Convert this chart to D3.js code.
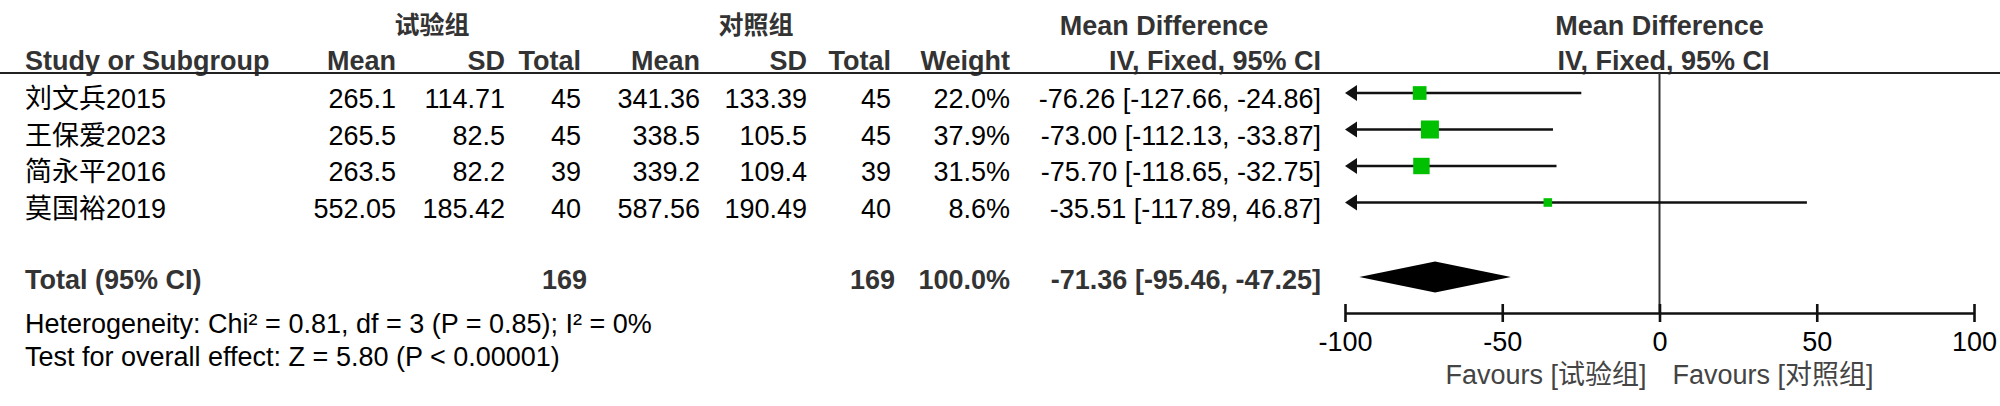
<!DOCTYPE html>
<html><head><meta charset="utf-8">
<script src="https://cdn.jsdelivr.net/npm/d3@7"></script>
<style>html,body{margin:0;padding:0;background:#fff;} svg{display:block;}</style>
</head><body>
<svg id="chart" width="2000" height="406"></svg>
<script>
// ---------- data ----------
const studies  = ["刘文兵2015", "王保爱2023", "简永平2016", "莫国裕2019"];
const expMean  = [265.1, 265.5, 263.5, 552.05];
const expSD    = [114.71, 82.5, 82.2, 185.42];
const expN     = [45, 45, 39, 40];
const ctlMean  = [341.36, 338.5, 339.2, 587.56];
const ctlSD    = [133.39, 105.5, 109.4, 190.49];
const ctlN     = [45, 45, 39, 40];
const weights  = [22.0, 37.9, 31.5, 8.6];
const md       = [-76.26, -73.00, -75.70, -35.51];
const ciLow    = [-127.66, -112.13, -118.65, -117.89];
const ciHigh   = [-24.86, -33.87, -32.75, 46.87];
const totalN   = [169, 169];
const totalWeight = 100.0;
const totalMD  = [-71.36, -95.46, -47.25];   // estimate, low, high
const axisTicks = [-100, -50, 0, 50, 100];
const groupLabels = ["试验组", "对照组"];
const heterogeneityText = "Heterogeneity: Chi² = 0.81, df = 3 (P = 0.85); I² = 0%";
const overallText = "Test for overall effect: Z = 5.80 (P < 0.00001)";
const favourLabels = ["Favours [试验组]", "Favours [对照组]"];

// ---------- layout ----------
const FONT = "'Liberation Sans', Arial, 'Noto Sans CJK SC', sans-serif";
const FS = 27;
const svg = d3.select("#chart");
svg.append("rect").attr("width", 2000).attr("height", 406).attr("fill", "#fff");

const col = {study: 25, eMean: 396, eSD: 505, eN: 581, cMean: 700, cSD: 807, cN: 891, w: 1010, ci: 1321};
const yGroup = 35, yHead = 70, yLine = 73;
const rowBase = d3.scaleLinear().domain([0, 1]).range([108, 144.5]);
const yTotal = 289, yHet = 333, yOverall = 366;
const axisY = 313;

const x = d3.scaleLinear().domain([-100, 100]).range([1345, 1974]);
const size = d3.scaleSqrt().domain([0, d3.max(weights)]).range([0, 18]);
const f2 = v => v.toFixed(2);

function txt(s, xx, yy, anchor, opts = {}) {
  return svg.append("text").attr("x", xx).attr("y", yy)
    .attr("text-anchor", anchor || "start")
    .attr("font-family", opts.family || FONT)
    .attr("font-size", opts.size || FS)
    .attr("font-weight", opts.bold ? "bold" : "normal")
    .attr("fill", opts.fill || "#000")
    .text(s);
}

// group headers
const hdrFill = "#333";
const cjkBold = {bold: true, fill: hdrFill, size: 25, family: "'Noto Sans CJK SC', sans-serif"};
txt(groupLabels[0], 432, yGroup - 1, "middle", cjkBold);
txt(groupLabels[1], 756, yGroup - 1, "middle", cjkBold);
txt("Mean Difference", 1164, yGroup, "middle", {bold: true, fill: hdrFill});
txt("Mean Difference", x(0), yGroup, "middle", {bold: true, fill: hdrFill});

// column headers
txt("Study or Subgroup", col.study, yHead, "start", {bold: true, fill: hdrFill});
txt("Mean", col.eMean, yHead, "end", {bold: true, fill: hdrFill});
txt("SD", col.eSD, yHead, "end", {bold: true, fill: hdrFill});
txt("Total", col.eN, yHead, "end", {bold: true, fill: hdrFill});
txt("Mean", col.cMean, yHead, "end", {bold: true, fill: hdrFill});
txt("SD", col.cSD, yHead, "end", {bold: true, fill: hdrFill});
txt("Total", col.cN, yHead, "end", {bold: true, fill: hdrFill});
txt("Weight", col.w, yHead, "end", {bold: true, fill: hdrFill});
txt("IV, Fixed, 95% CI", col.ci, yHead, "end", {bold: true, fill: hdrFill});
txt("IV, Fixed, 95% CI", x(0) + 4, yHead, "middle", {bold: true, fill: hdrFill});

// header rule
svg.append("line").attr("x1", 0).attr("x2", 2000).attr("y1", yLine).attr("y2", yLine)
  .attr("stroke", "#222").attr("stroke-width", 2.2);

// zero line
svg.append("line").attr("x1", x(0)).attr("x2", x(0)).attr("y1", yLine).attr("y2", axisY)
  .attr("stroke", "#333").attr("stroke-width", 2);

// study rows
studies.forEach((s, i) => {
  const yb = rowBase(i);
  txt(s, col.study, yb, "start");
  txt(String(expMean[i]), col.eMean, yb, "end");
  txt(String(expSD[i]), col.eSD, yb, "end");
  txt(String(expN[i]), col.eN, yb, "end");
  txt(String(ctlMean[i]), col.cMean, yb, "end");
  txt(String(ctlSD[i]), col.cSD, yb, "end");
  txt(String(ctlN[i]), col.cN, yb, "end");
  txt(weights[i].toFixed(1) + "%", col.w, yb, "end");
  txt(`${f2(md[i])} [${f2(ciLow[i])}, ${f2(ciHigh[i])}]`, col.ci, yb, "end");

  const yc = yb - 15;
  const [d0, d1] = x.domain();
  const lo = Math.max(ciLow[i], d0), hi = Math.min(ciHigh[i], d1);
  svg.append("line").attr("x1", x(lo) + (ciLow[i] < d0 ? 4 : 0)).attr("x2", x(hi))
    .attr("y1", yc).attr("y2", yc).attr("stroke", "#111").attr("stroke-width", 2.6);
  if (ciLow[i] < d0) {
    const ax = x(d0);
    svg.append("path").attr("d", `M${ax},${yc} L${ax + 12},${yc - 8} L${ax + 12},${yc + 8} Z`)
      .attr("fill", "#111");
  }
  if (ciHigh[i] > d1) {
    const ax = x(d1);
    svg.append("path").attr("d", `M${ax},${yc} L${ax - 12},${yc - 8} L${ax - 12},${yc + 8} Z`)
      .attr("fill", "#111");
  }
  const sz = size(weights[i]);
  svg.append("rect").attr("x", x(md[i]) - sz / 2).attr("y", yc - sz / 2)
    .attr("width", sz).attr("height", sz).attr("fill", "#00c000");
});

// total row
txt("Total (95% CI)", col.study, yTotal, "start", {bold: true, fill: hdrFill});
txt(String(totalN[0]), col.eN + 6, yTotal, "end", {bold: true, fill: hdrFill});
txt(String(totalN[1]), col.cN + 4, yTotal, "end", {bold: true, fill: hdrFill});
txt(totalWeight.toFixed(1) + "%", col.w, yTotal, "end", {bold: true, fill: hdrFill});
txt(`${f2(totalMD[0])} [${f2(totalMD[1])}, ${f2(totalMD[2])}]`, col.ci, yTotal, "end", {bold: true, fill: hdrFill});
const yd = 277;
svg.append("path")
  .attr("d", `M${x(totalMD[1])},${yd} L${x(totalMD[0])},${yd - 15.5} L${x(totalMD[2])},${yd} L${x(totalMD[0])},${yd + 15.5} Z`)
  .attr("fill", "#000");

txt(heterogeneityText, col.study, yHet, "start");
txt(overallText, col.study, yOverall, "start");

// axis
const axis = d3.axisBottom(x).tickValues(axisTicks).tickSize(9).tickSizeOuter(0).tickFormat(d => String(d));
const gAxis = svg.append("g").attr("transform", `translate(0,${axisY})`).call(axis);
gAxis.select(".domain").attr("stroke", "#111").attr("stroke-width", 2.6);
gAxis.selectAll(".tick line").attr("y1", -9).attr("y2", 9).attr("stroke", "#111").attr("stroke-width", 2.6);
gAxis.selectAll(".tick text").attr("y", 38).attr("dy", 0)
  .attr("font-family", FONT).attr("font-size", FS).attr("fill", "#000");

txt(favourLabels[0], x(0) - 13, 384, "end", {fill: "#444"});
txt(favourLabels[1], x(0) + 13, 384, "start", {fill: "#444"});
</script>
</body></html>
